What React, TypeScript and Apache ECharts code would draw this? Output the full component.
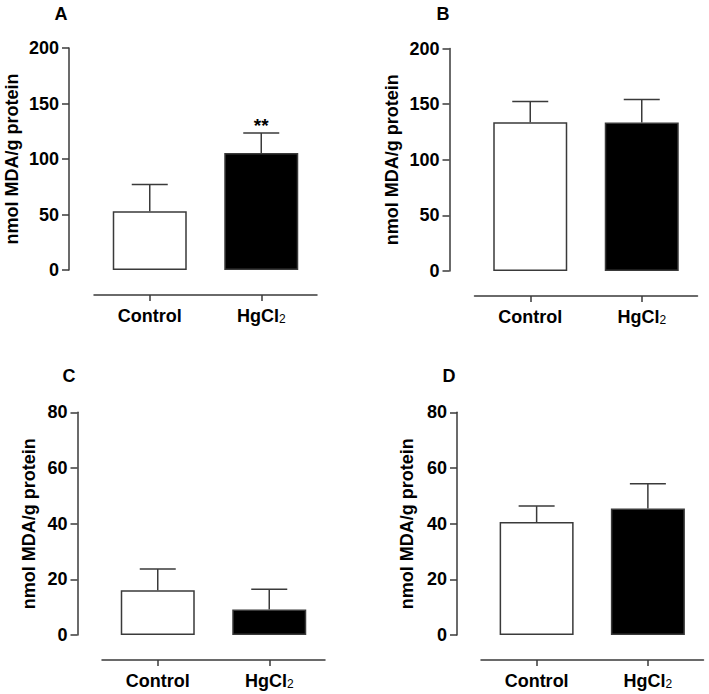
import React, { useEffect, useRef } from "react";
import * as echarts from "echarts";

const FONT = '"Liberation Sans", Arial, Helvetica, sans-serif';
const AXIS_COLOR = "#3a3a3a";

const categories = ["Control", "HgCl2"];
const panelLabels = ["A", "B", "C", "D"];

const meansA = [53, 105.5];
const semA = [24, 18];
const marksA = ["", "**"];

const meansB = [133.6, 133.5];
const semB = [18.8, 20.7];
const marksB = ["", ""];

const meansC = [16.1, 9.2];
const semC = [7.6, 7.2];
const marksC = ["", ""];

const meansD = [40.6, 45.4];
const semD = [5.7, 8.9];
const marksD = ["", ""];

const yMax = [200, 200, 80, 80];
const yInterval = [50, 50, 20, 20];
const yAxisName = "nmol MDA/g protein";

const barFill = ["#ffffff", "#000000"];

export default function App() {
  const ref = useRef<HTMLDivElement>(null);

  useEffect(() => {
    if (!ref.current) return;
    const chart = echarts.init(ref.current, undefined, { renderer: "svg" });

    const means = [meansA, meansB, meansC, meansD];
    const sems = [semA, semB, semC, semD];
    const marks = [marksA, marksB, marksC, marksD];

    const gridLayout = [
      { left: 94, top: 48, width: 223, height: 222 },
      { left: 474.5, top: 48.5, width: 223, height: 222.5 },
      { left: 102, top: 412.3, width: 223, height: 222.7 },
      { left: 481, top: 412.3, width: 222.5, height: 222.7 },
    ];
    const yOffsets = [25, 25, 24.5, 24];
    const nameGaps = [48, 49, 40, 41];
    const titlePos = [
      [61, 14],
      [443, 14],
      [69, 376],
      [449, 376],
    ];

    const grid = gridLayout.map((g) => ({ ...g, containLabel: false }));

    const xAxis = gridLayout.map((_, i) => ({
      type: "category",
      gridIndex: i,
      data: categories,
      offset: 25,
      axisLine: {
        show: true,
        onZero: false,
        lineStyle: { color: AXIS_COLOR, width: 1.5 },
      },
      axisTick: {
        show: true,
        alignWithLabel: true,
        length: 6,
        lineStyle: { color: AXIS_COLOR, width: 1.5 },
      },
      axisLabel: {
        margin: 12,
        color: "#000",
        formatter: (v: string) =>
          v === "HgCl2" ? "{m|HgCl}{s|2}" : "{m|" + v + "}",
        rich: {
          m: { fontSize: 18, fontWeight: "bold", fontFamily: FONT, color: "#000" },
          s: {
            fontSize: 12,
            fontWeight: "normal",
            fontFamily: FONT,
            color: "#000",
            verticalAlign: "bottom",
          },
        },
      },
      splitLine: { show: false },
    }));

    const yAxis = gridLayout.map((_, i) => ({
      type: "value",
      gridIndex: i,
      min: 0,
      max: yMax[i],
      interval: yInterval[i],
      offset: yOffsets[i],
      name: yAxisName,
      nameLocation: "middle",
      nameRotate: 90,
      nameGap: nameGaps[i],
      nameTextStyle: {
        fontSize: 18,
        fontWeight: "bold",
        fontFamily: FONT,
        color: "#000",
      },
      axisLine: {
        show: true,
        onZero: false,
        lineStyle: { color: AXIS_COLOR, width: 1.5 },
      },
      axisTick: {
        show: true,
        length: 7,
        lineStyle: { color: AXIS_COLOR, width: 1.5 },
      },
      axisLabel: {
        margin: 10,
        fontSize: 18,
        fontWeight: "bold",
        fontFamily: FONT,
        color: "#000",
      },
      splitLine: { show: false },
    }));

    const series: any[] = [];
    for (let i = 0; i < 4; i++) {
      series.push({
        type: "bar",
        xAxisIndex: i,
        yAxisIndex: i,
        barWidth: 74,
        data: means[i].map((v, j) => ({
          value: v,
          itemStyle: { color: barFill[j] },
        })),
        itemStyle: { borderColor: AXIS_COLOR, borderWidth: 1.5 },
      });
      const mk = marks[i];
      series.push({
        type: "custom",
        xAxisIndex: i,
        yAxisIndex: i,
        data: means[i].map((v, j) => [j, v, sems[i][j]]),
        encode: { x: 0, y: 1 },
        z: 5,
        renderItem: (params: any, api: any) => {
          const idx = api.value(0);
          const v = api.value(1);
          const e = api.value(2);
          const base = api.coord([idx, v]);
          const top = api.coord([idx, v + e]);
          const hw = 18;
          const style = { stroke: AXIS_COLOR, lineWidth: 1.5 };
          const children: any[] = [
            {
              type: "line",
              shape: { x1: base[0], y1: base[1], x2: top[0], y2: top[1] },
              style,
            },
            {
              type: "line",
              shape: { x1: top[0] - hw, y1: top[1], x2: top[0] + hw, y2: top[1] },
              style,
            },
          ];
          const m = mk[params.dataIndex];
          if (m) {
            children.push({
              type: "text",
              x: top[0],
              y: top[1] - 7,
              style: {
                text: m,
                fontSize: 19,
                fontWeight: "bold",
                fontFamily: FONT,
                fill: "#000",
                align: "center",
                verticalAlign: "middle",
              },
            });
          }
          return { type: "group", children };
        },
      });
    }

    const graphic = panelLabels.map((t, i) => ({
      type: "text",
      x: titlePos[i][0],
      y: titlePos[i][1],
      style: {
        text: t,
        fontSize: 18,
        fontWeight: "bold",
        fontFamily: FONT,
        fill: "#000",
        align: "center",
        verticalAlign: "middle",
      },
    }));

    chart.setOption({
      animation: false,
      backgroundColor: "#ffffff",
      grid,
      xAxis,
      yAxis,
      series,
      graphic,
    } as any);

    return () => chart.dispose();
  }, []);

  return (
    <div
      ref={ref}
      style={{ position: "fixed", left: 0, top: 0, width: 709, height: 694 }}
    />
  );
}
